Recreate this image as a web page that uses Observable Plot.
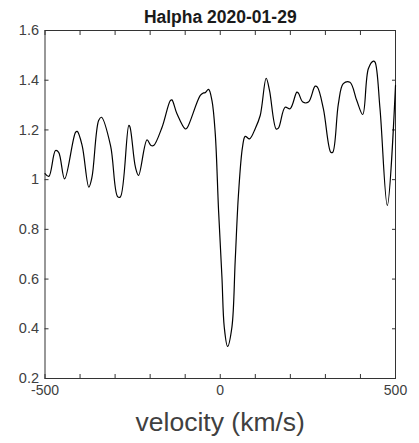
<!DOCTYPE html>
<html>
<head>
<meta charset="utf-8">
<script src="https://cdn.jsdelivr.net/npm/d3@7"></script>
<script src="https://cdn.jsdelivr.net/npm/@observablehq/plot@0.6"></script>
<style>
  html, body { margin: 0; padding: 0; background: #fff; }
</style>
</head>
<body>
<div id="chart"></div>
<script>
// H-alpha line profile, normalised flux against radial velocity
const velocity = [
  -500, -489, -470, -461, -444, -413, -408, -394, -375, -366,
  -347, -339, -313, -293, -285, -261, -258, -242, -233, -209,
  -197.5, -190, -166, -142.5, -138, -123.5, -100, -95, -57, -47.6,
  -43, -33.3, -23.6, -14.2, -4.8, 4.8, 11.4, 20.8, 33.3, 42.7,
  52.1, 63.5, 71.2, 83.5, 99.7, 114, 131, 140.5, 159.5, 166,
  185, 199.4, 218.5, 223, 235.6, 251.6, 270.7, 277.2, 294.3, 315.4,
  321, 337, 351, 370, 389.5, 406.5, 422.5, 436.8, 441.6, 455.8,
  476.6, 500
];
const flux = [
  1.024, 1.013, 1.117, 1.110, 1.003, 1.190, 1.194, 1.137, 0.970, 1.010,
  1.238, 1.251, 1.137, 0.932, 0.930, 1.218, 1.214, 1.050, 1.017, 1.160,
  1.137, 1.137, 1.211, 1.318, 1.321, 1.265, 1.204, 1.207, 1.339, 1.349,
  1.350, 1.363, 1.318, 1.184, 0.876, 0.608, 0.407, 0.329, 0.407, 0.675,
  0.943, 1.131, 1.174, 1.164, 1.205, 1.258, 1.408, 1.359, 1.204, 1.207,
  1.291, 1.285, 1.352, 1.348, 1.312, 1.312, 1.376, 1.372, 1.285, 1.110,
  1.110, 1.305, 1.386, 1.392, 1.318, 1.262, 1.446, 1.477, 1.473, 1.285,
  0.896, 1.379
];

const titleText = "Halpha 2020-01-29";
const xLabelText = "velocity (km/s)";
const xTicks = [-500, -400, -300, -200, -100, 0, 100, 200, 300, 400, 500];
const xTickLabels = [-500, 0, 500];
const yTicks = [0.2, 0.4, 0.6, 0.8, 1.0, 1.2, 1.4, 1.6];

const spectrum = velocity.map((v, i) => ({v, f: flux[i]}));

const axisColor = "#333";
const labelColor = "#404040";
const font = "'Liberation Sans', Arial, Helvetica, sans-serif";
const blank = () => "";

const chart = Plot.plot({
  width: 419,
  height: 443,
  marginLeft: 44.5,
  marginRight: 24,
  marginTop: 30,
  marginBottom: 65,
  style: {fontFamily: font, background: "#fff", color: labelColor},
  x: {domain: [-500, 500]},
  y: {domain: [0.2, 1.6]},
  marks: [
    // inward-pointing tick marks on all four sides
    Plot.axisX(xTicks, {anchor: "bottom", tickSize: -4, tickFormat: blank, label: null, stroke: axisColor}),
    Plot.axisX(xTicks, {anchor: "top", tickSize: -4, tickFormat: blank, label: null, stroke: axisColor}),
    Plot.axisY(yTicks, {anchor: "left", tickSize: -4, tickFormat: blank, label: null, stroke: axisColor}),
    Plot.axisY(yTicks, {anchor: "right", tickSize: -4, tickFormat: blank, label: null, stroke: axisColor}),
    // tick labels
    Plot.axisX(xTickLabels, {anchor: "bottom", tickSize: 0, tickPadding: 7, tickFormat: d => String(d),
      label: null, fontSize: 14, fill: labelColor}),
    Plot.axisY(yTicks, {anchor: "left", tickSize: 0, tickPadding: 6, tickFormat: d => String(+d.toFixed(1)),
      label: null, fontSize: 14.5, fill: labelColor}),
    Plot.frame({stroke: axisColor, strokeWidth: 1}),
    Plot.line(spectrum, {x: "v", y: "f", curve: "catmull-rom", stroke: "#000", strokeWidth: 1.2}),
    // title and axis label
    Plot.text([titleText], {text: d => d, frameAnchor: "top", lineAnchor: "bottom", dy: -7.5,
      fontSize: 17.5, fontWeight: "bold", fill: "#1a1a1a"}),
    Plot.text([xLabelText], {text: d => d, frameAnchor: "bottom", lineAnchor: "bottom", dy: 52,
      fontSize: 26.5, fill: labelColor})
  ]
});

document.getElementById("chart").appendChild(chart);
</script>
</body>
</html>
